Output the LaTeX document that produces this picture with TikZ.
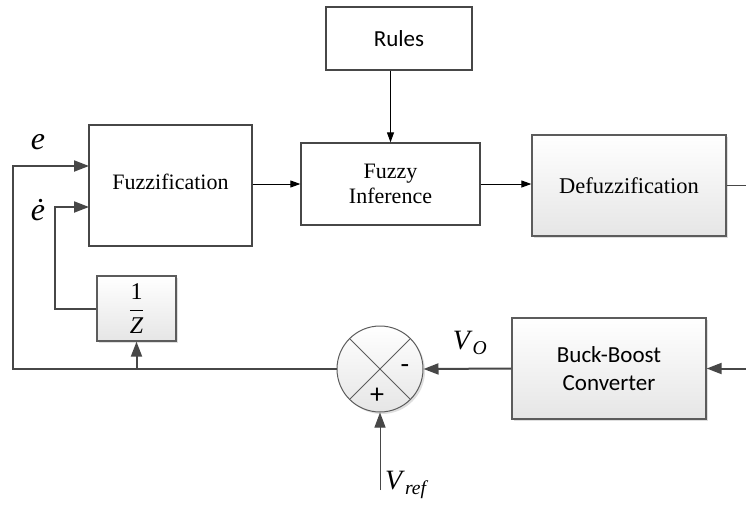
\documentclass[tikz,border=0pt]{standalone}
\usepackage{fontspec}
\setmainfont{Liberation Serif}
\newfontfamily\labelsans{Carlito}
\usetikzlibrary{arrows.meta,shadows}
\definecolor{wire}{HTML}{474747}
\definecolor{edge}{HTML}{5C5C5C}

\begin{document}
\begin{tikzpicture}[x=1pt,y=-1pt,
    block/.style={draw=wire, line width=1.3pt, fill=white, inner sep=0pt, align=center,
        font=\fontsize{22}{25}\selectfont},
    shadedblock/.style={block, draw=edge, top color=white, bottom color=black!10,
        drop shadow={shadow xshift=2pt, shadow yshift=-2pt, opacity=.25}},
    signal/.style={draw=wire, line width=2pt, -{Triangle[length=15pt,width=11pt]}},
    link/.style={draw=black, line width=1pt, -{Triangle[length=10pt,width=7pt]}},
    sign/.style={font=\labelsans\fontsize{28}{28}\selectfont}]
    \useasboundingbox (0,0) rectangle (746,506);

    % fuzzy controller
    \node[block, minimum width=146pt, minimum height=63pt,
        font=\labelsans\fontsize{23}{25}\selectfont] (rules) at (399,38.5) {Rules};
    \node[block, minimum width=163pt, minimum height=121pt] (fuzz) at (170.5,185.5)
        {\raisebox{7pt}{Fuzzification}};
    \node[block, minimum width=179pt, minimum height=82pt] (infer) at (390.5,184) {Fuzzy\\Inference};
    \node[shadedblock, minimum width=194pt, minimum height=101pt,
        font=\fontsize{22.5}{25}\selectfont] (defuzz) at (629,185.5) {Defuzzification};

    % plant and feedback
    \node[shadedblock, minimum width=194pt, minimum height=101pt,
        font=\labelsans\fontsize{23}{28}\selectfont] (buck) at (609,368.5) {Buck-Boost\\Converter};
    \node[shadedblock, minimum width=79pt, minimum height=65pt,
        font=\fontsize{24}{24}\selectfont] (zinv) at (136.5,308.5)
        {$\displaystyle\frac{\textup{1}}{\textit{Z}}$};
    \node[circle, draw=edge, line width=1pt, minimum size=86pt, top color=white, bottom color=black!10,
        drop shadow={shadow xshift=2pt, shadow yshift=-2pt, opacity=.25}] (sum) at (380,369) {};
    \draw[edge, line width=.8pt] (sum.135) -- (sum.-45) (sum.45) -- (sum.-135);
    \node[sign] (minus) at ([xshift=25pt]sum.center) {-};
    \node[sign] (plus) at ([xshift=-3pt,yshift=-27pt]sum.center) {+};

    % signal labels
    \node[font=\fontsize{32}{32}\selectfont\itshape] (elabel) at (38,142) {e};
    \node[font=\fontsize{32}{32}\selectfont\itshape] (edlabel) at (38,210) {\.e};
    \node[font=\fontsize{28}{28}\selectfont] (volabel) at (470,343) {\textit{V}\textsubscript{\textit{O}}};
    \node[font=\fontsize{28}{28}\selectfont] (vreflabel) at (407,485) {\textit{V}\textsubscript{\textit{ref}}};

    \coordinate (ecorner) at (13,369);
    \coordinate (ein) at (89,166);
    \coordinate (edin) at (89,207);
    \coordinate (dcorner) at (55,308.5);
    \coordinate (outR) at (746,185.5);
    \coordinate (inR) at (746,368.5);
    \coordinate (vref) at (380,490);

    \draw[signal] (sum.west) -- (ecorner) |- (ein);
    \draw[signal] (zinv.south |- ecorner) -- (zinv.south);
    \draw[signal] (zinv.west) -- (dcorner) |- (edin);
    \draw[link] (fuzz.east |- infer.west) -- (infer.west);
    \draw[link] (infer.east) -- (defuzz.west |- infer.east);
    \draw[link] (rules.south -| infer.north) -- (infer.north);
    \draw[wire, line width=1.3pt] (defuzz.east) -- (outR);
    \draw[signal] (inR) -- (buck.east);
    \draw[signal] (buck.west) -- (sum.east);
    \draw[signal, line width=1pt] (vref) -- (sum.south);
\end{tikzpicture}
\end{document}
